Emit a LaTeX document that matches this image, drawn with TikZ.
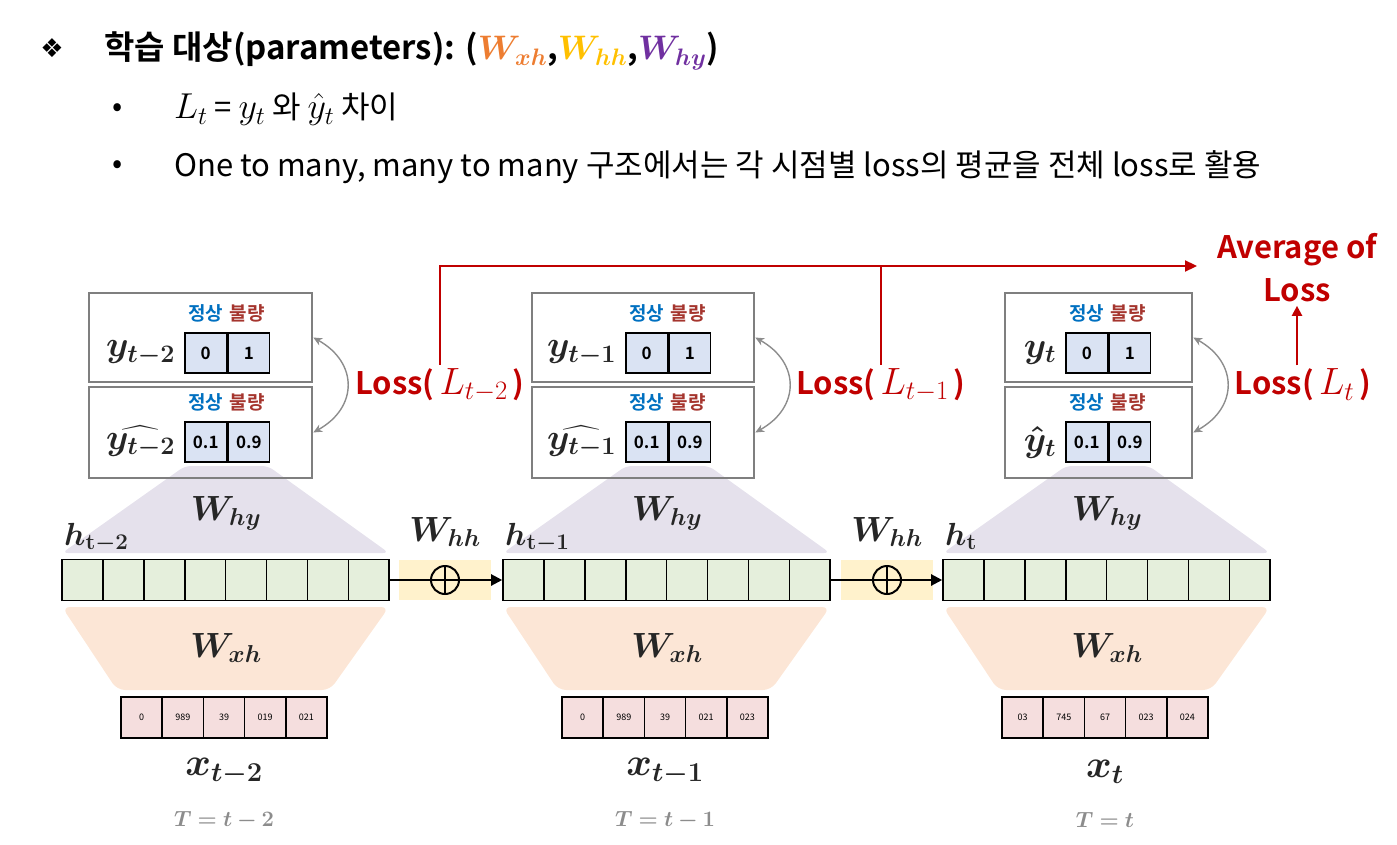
\RequirePackage{fix-cm}
\documentclass[tikz,border=0pt]{standalone}
\usepackage[no-math]{fontspec}
\usepackage{exscale}
\usepackage{bm}
\setmainfont{Noto Sans CJK KR}[BoldFont={Noto Sans CJK KR Bold}]
\newfontfamily\dingfont{DejaVu Sans}
\usetikzlibrary{positioning,arrows.meta}
\definecolor{boxgray}{HTML}{7F7F7F}
\definecolor{ycellfill}{HTML}{DAE3F3}
\definecolor{hcellfill}{HTML}{E5EFDC}
\definecolor{xcellfill}{HTML}{F5DEDE}
\definecolor{hyfill}{HTML}{E5E1EC}
\definecolor{xhfill}{HTML}{FCE6D6}
\definecolor{hhfill}{HTML}{FFF2CC}
\definecolor{okblue}{HTML}{0070C0}
\definecolor{badred}{HTML}{A5352E}
\definecolor{lossred}{HTML}{C00000}
\definecolor{worange}{HTML}{ED7D31}
\definecolor{wyellow}{HTML}{FFC000}
\definecolor{wpurple}{HTML}{7030A0}
\definecolor{tgray}{HTML}{8C8C8C}
\definecolor{inkdark}{HTML}{262626}
\newcommand{\mathat}[2]{{\fontsize{#1}{#1}\selectfont$#2$}}

\tikzset{
  outbox/.style={draw=boxgray, line width=2.5pt, minimum height=#1, inner sep=0pt},
  ycell/.style={draw=black, line width=1.6pt, fill=ycellfill, minimum width=41.5pt, minimum height=40pt, inner sep=0pt, font=\fontsize{17}{17}\selectfont\bfseries},
  hcell/.style={draw=black, line width=1.6pt, fill=hcellfill, minimum width=40.9pt, minimum height=41pt, inner sep=0pt},
  xcell/.style={draw=black, line width=1.6pt, fill=xcellfill, minimum width=41.2pt, minimum height=41pt, inner sep=0pt, font=\fontsize{9}{9}\selectfont},
  classlbl/.style={font=\fontsize{19}{19}\selectfont\bfseries, inner sep=0pt},
  mathlbl/.style={text=inkdark, inner sep=1pt, font=\fontsize{#1}{#1}\selectfont},
  losstext/.style={text=lossred, font=\fontsize{31}{43}\selectfont\bfseries},
  lossline/.style={draw=lossred, line width=2.2pt},
  cmparrow/.style={draw=tgray, line width=1.4pt, {Stealth[length=9pt,width=8pt]}-{Stealth[length=9pt,width=8pt]}},
  hhbox/.style={fill=hhfill, minimum width=92pt, minimum height=40pt, inner sep=0pt},
  adder/.style={circle, draw=black, line width=2pt, minimum size=28pt, inner sep=0pt},
}

\begin{document}
\begin{tikzpicture}[x=1pt,y=-1pt]
\useasboundingbox (0,0) rectangle (1397,845);

% heading and bullets
\node (star) at (52,48) {\dingfont\fontsize{26}{26}\selectfont ❖};
\node[anchor=base west, inner sep=0pt] (title) at (104,60) {\fontsize{33}{36}\selectfont\bfseries 학습 대상(parameters): (\mathat{34}{\color{worange}\bm{W_{xh}}},\mathat{34}{\color{wyellow}\bm{W_{hh}}},\mathat{34}{\color{wpurple}\bm{W_{hy}}})};
\node (dot1) at (118,110) {\fontsize{30}{30}\selectfont •};
\node[anchor=base west, inner sep=0pt] (line1) at (174,119) {\fontsize{31}{34}\selectfont \mathat{36}{L_t} = \mathat{36}{y_t} 와 \mathat{36}{\hat{y}_t} 차이};
\node (dot2) at (118,167) {\fontsize{30}{30}\selectfont •};
\node[anchor=base west, inner sep=0pt] (line2) at (174,177) {\fontsize{31}{34}\selectfont One to many, many to many 구조에서는 각 시점별 loss의 평균을 전체 loss로 활용};

% three time steps
\foreach \i/\hx/\bc/\bw/\yl/\yhl/\hl/\xl/\tl/\xv in {
  1/62/200.5/223/{\bm{y}_{\bm{t-2}}}/{\widehat{\bm{y}_{\bm{t-2}}}}/{\mathbf{t}\bm{-}\mathbf{2}}/{x_{t-2}}/{T=t-2}/{0,989,39,019,021},
  2/503/643/222/{\bm{y}_{\bm{t-1}}}/{\widehat{\bm{y}_{\bm{t-1}}}}/{\mathbf{t}\bm{-}\mathbf{1}}/{x_{t-1}}/{T=t-1}/{0,989,39,021,023},
  3/943/1098.5/187/{\bm{y}_{\bm{t}}}/{\bm{\hat{y}}_{\bm{t}}}/{\mathbf{t}}/{x_t}/{T=t}/{03,745,67,023,024}}{
  % weight fans
  \fill[hyfill, rounded corners=6pt] ({\hx+123},466) -- ({\hx+206},466) -- ({\hx+327},553) -- (\hx,553) -- cycle;
  \fill[xhfill, rounded corners=8pt] (\hx,607) -- ({\hx+327},607) -- ({\hx+268},690) -- ({\hx+55},690) -- cycle;
  % target and prediction boxes
  \node[outbox=89pt, minimum width=\bw pt] (yb\i) at (\bc,337.5) {};
  \node[outbox=91pt, minimum width=\bw pt] (yhb\i) at (\bc,432.5) {};
  \node[ycell] (yc\i a) at ({\hx+143.75},353) {0};
  \node[ycell, right=0pt of yc\i a] (yc\i b) {1};
  \node[ycell] (yhc\i a) at ({\hx+143.75},442) {0.1};
  \node[ycell, right=0pt of yhc\i a] (yhc\i b) {0.9};
  \node[classlbl, text=okblue] (ok\i) at ({\hx+143.75},313) {정상};
  \node[classlbl, text=badred] (bad\i) at ({\hx+185.25},313) {불량};
  \node[classlbl, text=okblue] (okh\i) at ({\hx+143.75},402) {정상};
  \node[classlbl, text=badred] (badh\i) at ({\hx+185.25},402) {불량};
  \node[mathlbl=36, left=8pt of yc\i a] (ylab\i) {$\yl$};
  \node[mathlbl=36, left=8pt of yhc\i a] (yhlab\i) {$\yhl$};
  \draw[cmparrow] (yb\i.east) .. controls +(45,25) and +(45,-25) .. (yhb\i.east);
  % hidden state
  \foreach \k in {0,...,7}
    \node[hcell] (h\i-\k) at ({\hx+20.45+40.9*\k},580) {};
  \node[mathlbl=32, anchor=base west] (hlab\i) at ({\hx+1},545) {$\bm{h}_{\hl}$};
  \node[mathlbl=35] (why\i) at ({\hx+164},513) {$\bm{W_{hy}}$};
  \node[mathlbl=35] (wxh\i) at ({\hx+164},648) {$\bm{W_{xh}}$};
  % input
  \foreach \v [count=\k from 0] in \xv
    \node[xcell] (x\i-\k) at ({\hx+79.6+41.2*\k},717.5) {\v};
  \node[mathlbl=39] (xlab\i) at ({\hx+162},772) {$\bm{\xl}$};
  \node[mathlbl=22, text=tgray] (tlab\i) at ({\hx+162},820) {$\bm{\tl}$};
}

% recurrence
\node[hhbox] (hh1) at (445,580) {};
\node[hhbox] (hh2) at (887,580) {};
\node[adder] (add1) at (445,580) {};
\node[adder] (add2) at (887,580) {};
\draw[line width=2pt] (add1.north) -- (add1.south) (add2.north) -- (add2.south);
\node[mathlbl=35] (whh1) at (445,532) {$\bm{W_{hh}}$};
\node[mathlbl=35] (whh2) at (887,532) {$\bm{W_{hh}}$};
\draw[line width=2.2pt] (h1-7.east) -- (add1.west) -- (add1.east);
\draw[line width=2.2pt, -{Triangle[length=11pt,width=11pt]}] (add1.east) -- (h2-0.west);
\draw[line width=2.2pt] (h2-7.east) -- (add2.west) -- (add2.east);
\draw[line width=2.2pt, -{Triangle[length=11pt,width=11pt]}] (add2.east) -- (h3-0.west);

% losses
\node[losstext] (loss1) at (440,385) {Loss(\,\mathat{38}{L_{t-2}}\,)};
\node[losstext] (loss2) at (881,385) {Loss(\,\mathat{38}{L_{t-1}}\,)};
\node[losstext] (loss3) at (1303,385) {Loss(\,\mathat{38}{L_{t}}\,)};
\node[losstext, align=center] (avg) at (1297,268) {Average of\\Loss};
\coordinate (avgtip) at (1197,266);
\draw[lossline, -{Triangle[length=12pt,width=11pt]}] (loss1.north) |- (avgtip);
\draw[lossline] (loss2.north) -- (loss2.north |- avgtip);
\draw[lossline, -{Triangle[length=10pt,width=10pt]}] (avg.south |- loss3.north) -- (avg.south);
\end{tikzpicture}
\end{document}
